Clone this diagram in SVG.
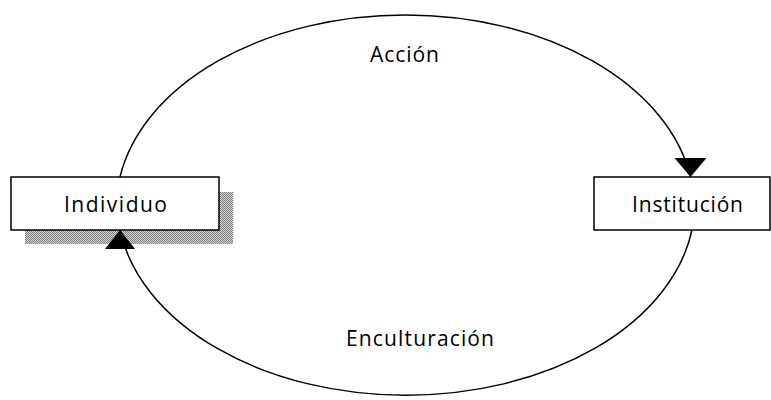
<svg xmlns="http://www.w3.org/2000/svg" width="771" height="400" viewBox="0 0 771 400">
  <style>
    .box { fill: #ffffff; stroke: #000000; stroke-width: 1.5; }
    .arc { fill: none; stroke: #000000; stroke-width: 1.5; }
    .label { font-family: "Open Sans", "DejaVu Sans", sans-serif; font-size: 21px; fill: #000000; text-anchor: middle; }
  </style>
  <defs>
    <pattern id="dither" width="2" height="2" patternUnits="userSpaceOnUse">
      <rect width="2" height="2" fill="#d8d8d8"/>
      <rect width="1" height="1" fill="#7a7a7a"/>
      <rect x="1" y="1" width="1" height="1" fill="#7a7a7a"/>
    </pattern>
    <!-- upright arrowheads: one pointing down, one pointing up -->
    <marker id="head-down" markerUnits="userSpaceOnUse" markerWidth="20" markerHeight="32" refX="19" refY="16" orient="90" overflow="visible">
      <path d="M0,0 L19,16 L0,32 Z" fill="#000000"/>
    </marker>
    <marker id="head-up" markerUnits="userSpaceOnUse" markerWidth="20" markerHeight="30" refX="19" refY="15" orient="270" overflow="visible">
      <path d="M0,0 L19,15 L0,30 Z" fill="#000000"/>
    </marker>
  </defs>

  <g id="individuo">
    <rect x="25" y="192" width="208" height="52" fill="url(#dither)"/>
    <rect class="box" x="11" y="177" width="208" height="53"/>
    <text class="label" x="115.5" y="212" textLength="103" lengthAdjust="spacing">Individuo</text>
  </g>

  <g id="institucion">
    <rect class="box" x="594" y="177" width="176" height="53"/>
    <text class="label" x="687.5" y="212" textLength="111" lengthAdjust="spacing">Institución</text>
  </g>

  <!-- cycle connectors -->
  <g id="connectors">
    <path id="accion-arc" class="arc" d="M120,177 A289,193 0 0 1 690.5,177" marker-end="url(#head-down)"/>
    <path id="enculturacion-arc" class="arc" d="M692,230 A289,193 0 0 1 120,230" marker-end="url(#head-up)"/>
  </g>

  <g id="labels">
    <text class="label" x="404.5" y="62" textLength="69" lengthAdjust="spacing">Acción</text>
    <text class="label" x="420" y="346" textLength="148" lengthAdjust="spacing">Enculturación</text>
  </g>
</svg>
